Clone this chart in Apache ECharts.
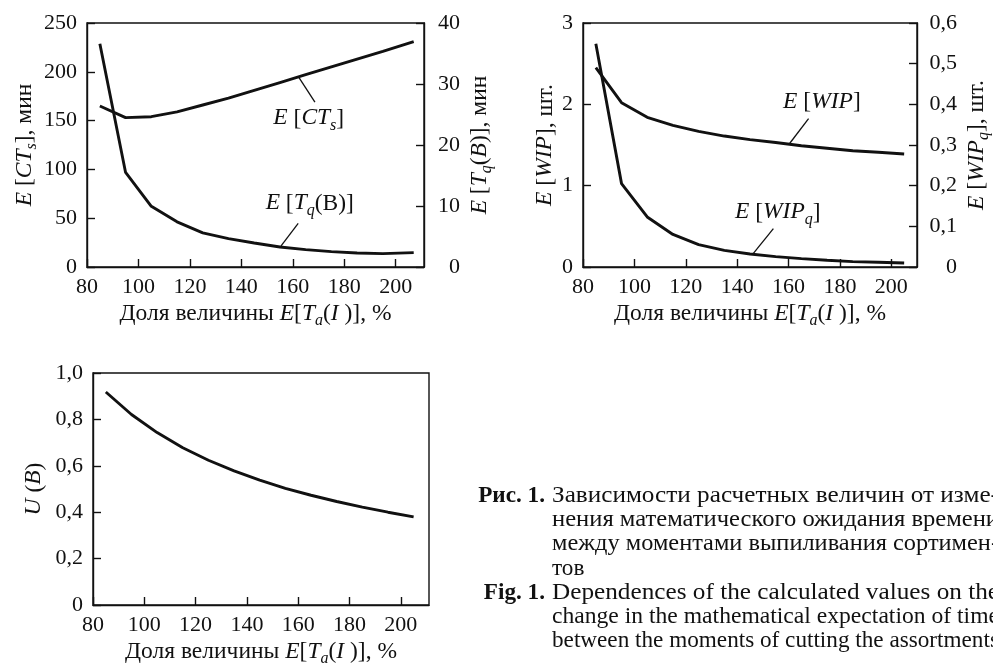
<!DOCTYPE html>
<html>
<head>
<meta charset="utf-8">
<script src="https://cdn.jsdelivr.net/npm/echarts@6/dist/echarts.min.js"></script>
<style>
  html, body { margin: 0; padding: 0; background: #fff; }
  #chart { width: 993px; height: 668px; }
</style>
</head>
<body>
<div id="chart"></div>
<script>
// Share of E[Ta(I)], % (upper-left panel)
const shareTop = [85, 95, 105, 115, 125, 135, 145, 155, 165, 175, 185, 195, 207];
// E[CTs], min
const cycleTime = [165, 153, 154, 159, 166, 173, 181, 189, 197, 205, 213, 221, 231];
// E[Tq(B)], min
const queueTime = [36.6, 15.5, 9.95, 7.4, 5.6, 4.65, 3.93, 3.28, 2.85, 2.52, 2.3, 2.2, 2.36];

// Share of E[Ta(I)], % (upper-right and lower panels)
const share = [85, 95, 105, 115, 125, 135, 145, 155, 165, 175, 185, 195, 205];
// E[WIP], pcs
const wip = [2.45, 2.02, 1.84, 1.742, 1.668, 1.61, 1.566, 1.53, 1.49, 1.46, 1.43, 1.41, 1.39];
// E[WIPq], pcs
const wipQueue = [0.549, 0.205, 0.123, 0.080, 0.055, 0.041, 0.032, 0.0256, 0.0206, 0.0165, 0.0133, 0.0115, 0.0098];
// U(B)
const utilization = [0.918, 0.821, 0.743, 0.678, 0.624, 0.578, 0.538, 0.503, 0.473, 0.446, 0.422, 0.400, 0.380];

// Tick label sets
const xTicks = [80, 100, 120, 140, 160, 180, 200];
const pairs = (xs, ys) => xs.map((x, i) => [x, ys[i]]);

const FONT = '"Liberation Serif", "DejaVu Serif", serif';
const INK = '#111';
const SIZE = 22;      // tick labels
const NAME = 23.5;    // axis titles
const NOTE = 23.5;    // curve labels

function richSet(size) {
  return {
    r: { fontFamily: FONT, fontSize: size, color: INK, lineHeight: size, verticalAlign: 'top' },
    i: { fontFamily: FONT, fontSize: size, color: INK, fontStyle: 'italic', lineHeight: size, verticalAlign: 'top' },
    s: { fontFamily: FONT, fontSize: Math.round(size * 0.68), color: INK, fontStyle: 'italic',
         lineHeight: Math.round(size * 0.64), padding: [Math.round(size * 0.45), 0, 0, 0], verticalAlign: 'top' }
  };
}
const nameRich = richSet(NAME);
const noteRich = richSet(NOTE);

const comma = v => (v === 0 ? '0' : v.toFixed(1).replace('.', ','));
const xLabel = v => (xTicks.indexOf(v) >= 0 ? String(v) : '');

const frame = { color: INK, width: 1.4 };

function xAxis(gridIndex, max) {
  return {
    type: 'value', gridIndex, min: 80, max, interval: 20,
    axisLine: { show: true, lineStyle: frame },
    axisTick: { show: true, inside: true, length: 8, lineStyle: frame },
    axisLabel: { margin: 9, fontFamily: FONT, fontSize: SIZE, color: INK, formatter: xLabel, showMaxLabel: false },
    splitLine: { show: false },
    name: '{r|Доля величины }{i|E}{r|[}{i|T}{s|a}{r|(}{i|I }{r|)], %}',
    nameLocation: 'middle', nameGap: 35,
    nameTextStyle: { rich: nameRich }
  };
}

function yAxis(gridIndex, position, min, max, interval, name, gap, labelOpts) {
  const right = position === 'right';
  return {
    type: 'value', gridIndex, position, min, max, interval,
    axisLine: { show: true, lineStyle: frame },
    axisTick: { show: true, inside: true, length: 8, lineStyle: frame },
    axisLabel: Object.assign({
      margin: right ? 36 : 10, align: 'right',
      fontFamily: FONT, fontSize: SIZE, color: INK
    }, labelOpts || {}),
    splitLine: { show: false },
    name, nameLocation: 'middle', nameRotate: 90, nameGap: gap,
    nameTextStyle: { rich: nameRich }
  };
}

const curve = { color: INK, width: 2.9 };
const leader = { color: INK, width: 1.3, type: 'solid' };

function note(coord, text) {
  return {
    symbol: 'circle', symbolSize: 0, silent: true,
    label: { show: true, position: 'inside', formatter: text, rich: noteRich },
    data: [{ coord }]
  };
}
function pointer(from, to) {
  return {
    symbol: ['none', 'none'], silent: true, lineStyle: leader,
    label: { show: false }, emphasis: { disabled: true },
    data: [[{ coord: from }, { coord: to }]]
  };
}

const option = {
  animation: false,
  backgroundColor: '#fff',
  grid: [
    { left: 87, top: 23, width: 337, height: 244, show: true, borderColor: INK, borderWidth: 1.4 },
    { left: 583, top: 23, width: 337, height: 244, show: true, borderColor: INK, borderWidth: 1.4 },
    { left: 93, top: 373, width: 336, height: 236, show: true, borderColor: INK, borderWidth: 1.4 }
  ],
  xAxis: [xAxis(0, 211), xAxis(1, 210), xAxis(2, 211)],
  yAxis: [
    yAxis(0, 'left', 0, 250, 50, '{i|E}{r| [}{i|CT}{s|s}{r|], мин}', 48),
    yAxis(0, 'right', 0, 40, 10, '{i|E}{r| [}{i|T}{s|q}{r|(}{i|B}{r|)], мин}', 44),
    yAxis(1, 'left', 0, 3, 1, '{i|E}{r| [}{i|WIP}{r|], шт.}', 26),
    yAxis(1, 'right', 0, 0.6, 0.1, '{i|E}{r| [}{i|WIP}{s|q}{r|], шт.}', 48, { margin: 40, formatter: comma }),
    yAxis(2, 'left', 0, 1, 0.2, '{i|U}{r| (}{i|B}{r|)}', 47, { formatter: comma })
  ],
  series: [
    {
      type: 'line', xAxisIndex: 0, yAxisIndex: 0, data: pairs(shareTop, cycleTime),
      symbol: 'none', lineStyle: curve, silent: true,
      markPoint: note([166.2, 152.4], '{i|E}{r| [}{i|CT}{s|s}{r|]}'),
      markLine: pointer([168.6, 169], [162.1, 195.4])
    },
    {
      type: 'line', xAxisIndex: 0, yAxisIndex: 1, data: pairs(shareTop, queueTime),
      symbol: 'none', lineStyle: curve, silent: true,
      markPoint: note([166.6, 10.4], '{i|E}{r| [}{i|T}{s|q}{r|(В)]}'),
      markLine: pointer([162.1, 7.16], [155.3, 3.39])
    },
    {
      type: 'line', xAxisIndex: 1, yAxisIndex: 2, data: pairs(share, wip),
      symbol: 'none', lineStyle: curve, silent: true,
      markPoint: note([173, 2.03], '{i|E}{r| [}{i|WIP}{r|]}'),
      markLine: pointer([167.8, 1.825], [160.2, 1.509])
    },
    {
      type: 'line', xAxisIndex: 1, yAxisIndex: 3, data: pairs(share, wipQueue),
      symbol: 'none', lineStyle: curve, silent: true,
      markPoint: note([155.8, 0.135], '{i|E}{r| [}{i|WIP}{s|q}{r|]}'),
      markLine: pointer([154.1, 0.0944], [146, 0.0312])
    },
    {
      type: 'line', xAxisIndex: 2, yAxisIndex: 4, data: pairs(share, utilization),
      symbol: 'none', lineStyle: curve, silent: true
    }
  ]
};

// Figure caption; full lines are stretched to the measure, paragraph ends stay natural
const CAP = 23.2;
const capLines = [
  { t: 'Зависимости расчетных величин от изме-', j: true },
  { t: 'нения математического ожидания времени', j: true },
  { t: 'между моментами выпиливания сортимен-', j: true },
  { t: 'тов', j: false },
  { t: 'Dependences of the calculated values on the', j: true },
  { t: 'change in the mathematical expectation of time', j: true },
  { t: 'between the moments of cutting the assortments', j: false }
];
const capTop = 496, capStep = 24.2, capX = 552, capRight = 999;
const capFont = CAP + 'px ' + FONT;
const measure = document.createElement('canvas').getContext('2d');
measure.font = capFont;

const graphics = capLines.map((line, k) => {
  const w = measure.measureText(line.t).width;
  const stretch = line.j ? Math.max(1, (capRight - capX) / w) : 1;
  return {
    type: 'text', x: capX, y: capTop + k * capStep, scaleX: stretch, silent: true,
    style: { text: line.t, font: capFont, fill: INK, align: 'left', verticalAlign: 'middle' }
  };
});
graphics.push(
  { type: 'text', x: 545, y: capTop, silent: true,
    style: { text: 'Рис. 1.', font: 'bold ' + capFont, fill: INK, align: 'right', verticalAlign: 'middle' } },
  { type: 'text', x: 545, y: capTop + 4 * capStep, silent: true,
    style: { text: 'Fig. 1.', font: 'bold ' + capFont, fill: INK, align: 'right', verticalAlign: 'middle' } }
);
option.graphic = graphics;

const chart = echarts.init(document.getElementById('chart'), null, { renderer: 'canvas' });
chart.setOption(option);
</script>
</body>
</html>
